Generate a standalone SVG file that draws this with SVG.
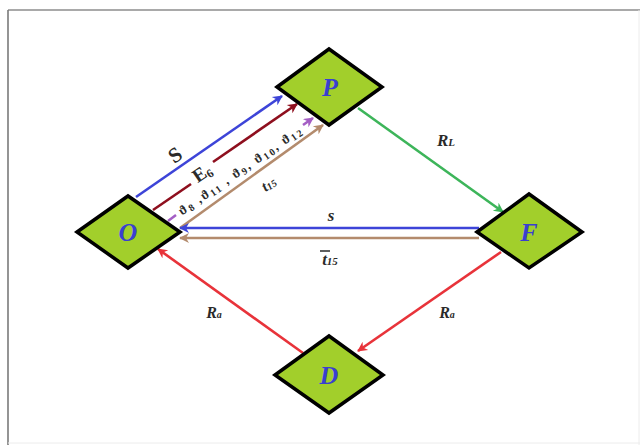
<svg xmlns="http://www.w3.org/2000/svg" width="640" height="445" viewBox="0 0 640 445">
<defs>
<style>
.node{fill:#a2cf2b;stroke:#000;stroke-width:3.5;stroke-linejoin:miter}
.nl{font-family:"Liberation Serif",serif;font-weight:bold;font-style:italic;font-size:26px;fill:#3a3fd0;text-anchor:middle}
.e{fill:none;stroke-width:2.6}
.lb{font-family:"Liberation Serif",serif;font-weight:bold;fill:#2a2a2a;text-anchor:middle}
.it{font-style:italic}
</style>
<marker id="ab" viewBox="0 0 10 10" refX="9" refY="5" markerWidth="11" markerHeight="10" markerUnits="userSpaceOnUse" orient="auto"><path d="M0,0 L10,5 L0,10 L3,5 z" fill="#3d44d8"/></marker>
<marker id="ar" viewBox="0 0 10 10" refX="9" refY="5" markerWidth="11" markerHeight="10" markerUnits="userSpaceOnUse" orient="auto"><path d="M0,0 L10,5 L0,10 L3,5 z" fill="#8e0f1e"/></marker>
<marker id="ap" viewBox="0 0 10 10" refX="9" refY="5" markerWidth="11" markerHeight="10" markerUnits="userSpaceOnUse" orient="auto"><path d="M0,0 L10,5 L0,10 L3,5 z" fill="#a45ec4"/></marker>
<marker id="an" viewBox="0 0 10 10" refX="9" refY="5" markerWidth="11" markerHeight="10" markerUnits="userSpaceOnUse" orient="auto"><path d="M0,0 L10,5 L0,10 L3,5 z" fill="#b38b6d"/></marker>
<marker id="ag" viewBox="0 0 10 10" refX="9" refY="5" markerWidth="11" markerHeight="10" markerUnits="userSpaceOnUse" orient="auto"><path d="M0,0 L10,5 L0,10 L3,5 z" fill="#3db55a"/></marker>
<marker id="ax" viewBox="0 0 10 10" refX="9" refY="5" markerWidth="11" markerHeight="10" markerUnits="userSpaceOnUse" orient="auto"><path d="M0,0 L10,5 L0,10 L3,5 z" fill="#e8333a"/></marker>
</defs>
<rect width="640" height="445" fill="#fff"/>
<g id="frame">
<line x1="8" y1="10" x2="640" y2="10" stroke="#8c8c8c" stroke-width="1.6"/>
<line x1="8" y1="10" x2="8" y2="445" stroke="#7a7a7a" stroke-width="1.6"/>
<line x1="8" y1="443" x2="640" y2="443" stroke="#ececec" stroke-width="1"/>
<line x1="639" y1="10" x2="639" y2="445" stroke="#ececec" stroke-width="1"/>
</g>
<g id="connectors">
<line class="e" x1="136" y1="197" x2="282" y2="96" stroke="#3d44d8" marker-end="url(#ab)"/>
<line class="e" x1="153" y1="210" x2="191" y2="184" stroke="#8e0f1e"/>
<line class="e" x1="213" y1="162" x2="297" y2="104" stroke="#8e0f1e" marker-end="url(#ar)"/>
<line class="e" x1="168" y1="221" x2="176" y2="215" stroke="#a45ec4"/>
<line class="e" x1="303" y1="125" x2="313" y2="118" stroke="#a45ec4" marker-end="url(#ap)"/>
<line class="e" x1="180" y1="228" x2="323" y2="125" stroke="#b38b6d" marker-end="url(#an)"/>
<line class="e" x1="358" y1="108" x2="503" y2="212" stroke="#3db55a" marker-end="url(#ag)"/>
<line class="e" x1="479" y1="228" x2="180" y2="228" stroke="#3d44d8" marker-end="url(#ab)"/>
<line class="e" x1="479" y1="238" x2="180" y2="238" stroke="#b38b6d" marker-end="url(#an)"/>
<line class="e" x1="303" y1="353" x2="158" y2="249" stroke="#e8333a" marker-end="url(#ax)"/>
<line class="e" x1="501" y1="252" x2="358" y2="351" stroke="#e8333a" marker-end="url(#ax)"/>
</g>
<g id="labels">
<text class="lb" font-size="21" x="175" y="162" transform="rotate(-34.5 175 155)">S</text>
<text class="lb" font-size="19" x="202" y="179" transform="rotate(-34.5 202 173)">E<tspan font-size="12" dy="3">6</tspan></text>
<text class="lb" font-size="13" x="240" y="175" textLength="146" lengthAdjust="spacing" transform="rotate(-34.5 240 171)">ϑ<tspan font-size="10" dy="2">8</tspan><tspan dy="-2"> ,ϑ</tspan><tspan font-size="10" dy="2">11</tspan><tspan dy="-2"> , ϑ</tspan><tspan font-size="10" dy="2">9</tspan><tspan dy="-2">, ϑ</tspan><tspan font-size="10" dy="2">10</tspan><tspan dy="-2">, ϑ</tspan><tspan font-size="10" dy="2">12</tspan></text>
<text class="lb it" font-size="15" x="268" y="189" transform="rotate(-34.5 268 183)">t<tspan font-size="10" dy="1">15</tspan></text>
<text class="lb it" font-size="17" x="446" y="146">R<tspan font-size="11">L</tspan></text>
<text class="lb it" font-size="17" x="331" y="221">s</text>
<text class="lb it" font-size="17" x="330" y="265">t<tspan font-size="11">15</tspan></text>
<line x1="320" y1="251" x2="330" y2="251" stroke="#2a2a2a" stroke-width="1.5"/>
<text class="lb it" font-size="16" x="214" y="318">R<tspan font-size="10">a</tspan></text>
<text class="lb it" font-size="16" x="447" y="318">R<tspan font-size="10">a</tspan></text>
</g>
<g id="node-P"><polygon class="node" points="277,87 329,49 382,87 329,125"/><text class="nl" x="330" y="96">P</text></g>
<g id="node-O"><polygon class="node" points="77,232 128,196 180,232 128,268"/><text class="nl" x="128" y="241">O</text></g>
<g id="node-F"><polygon class="node" points="477,232 529,194 582,232 529,268"/><text class="nl" x="529" y="241">F</text></g>
<g id="node-D"><polygon class="node" points="275,375 329,336 383,375 329,413"/><text class="nl" x="329" y="384">D</text></g>
</svg>
